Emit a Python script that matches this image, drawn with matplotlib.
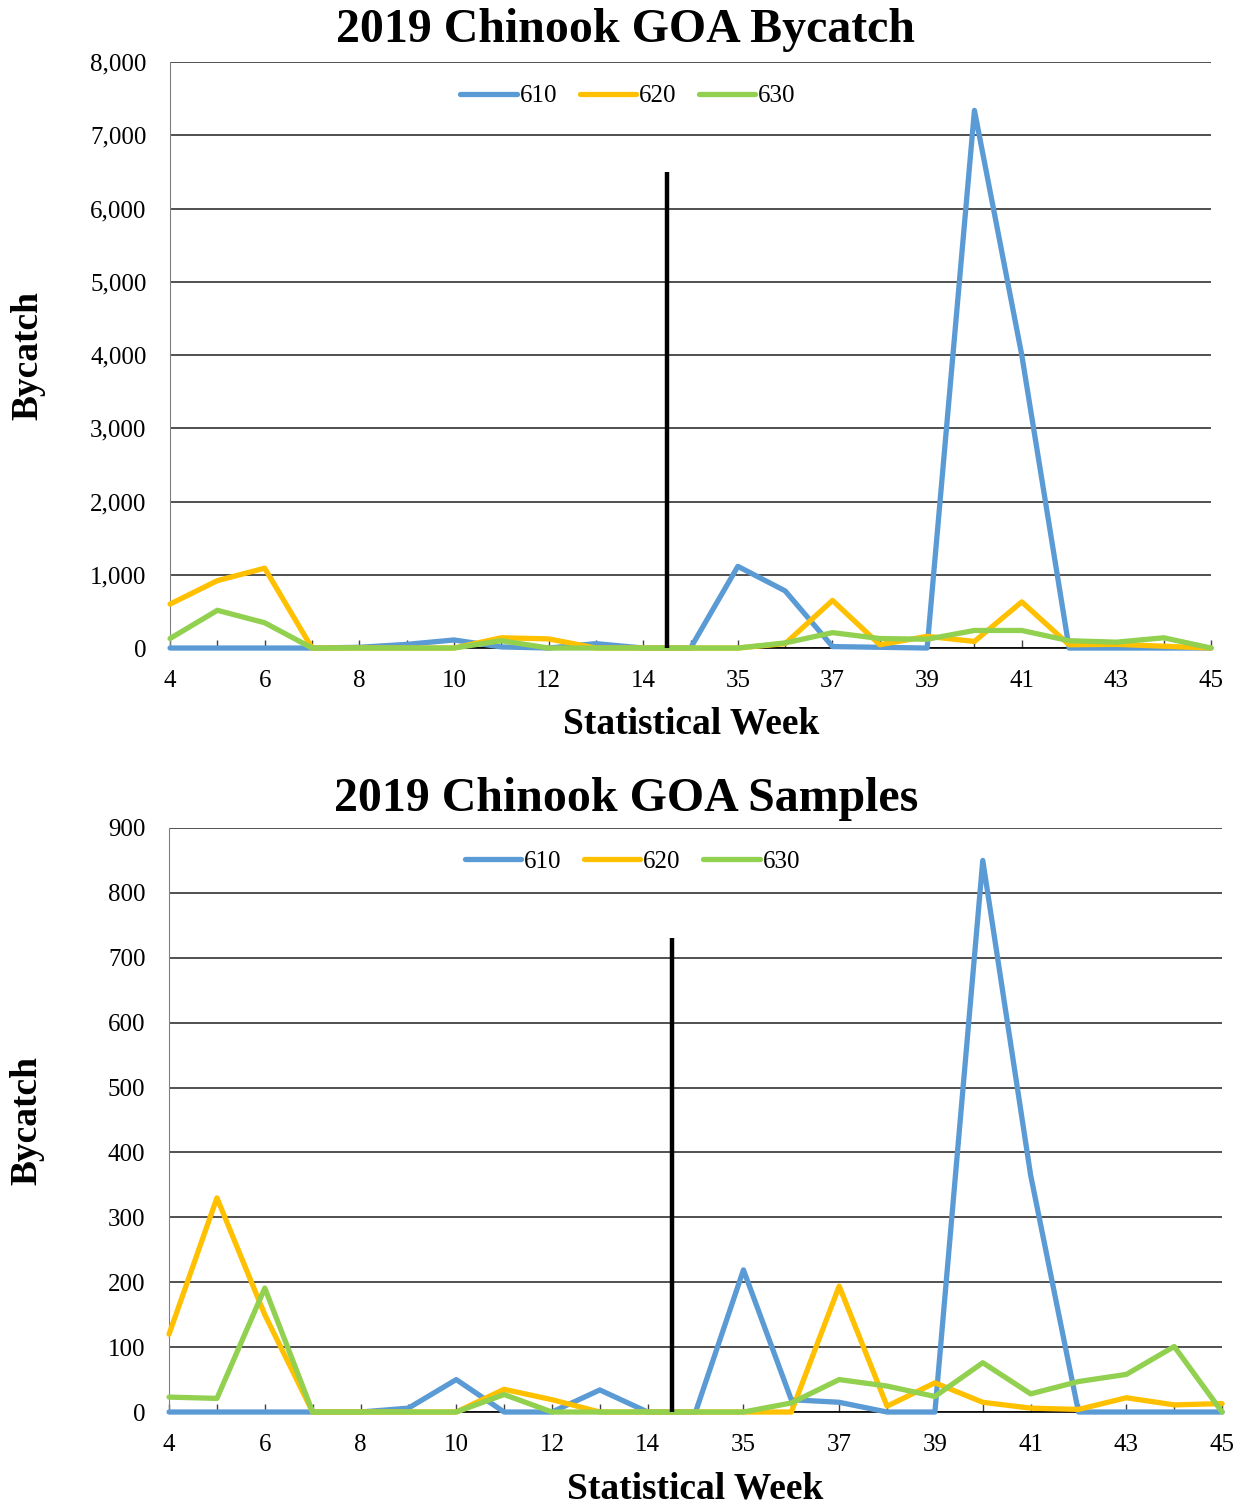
import matplotlib
matplotlib.use("Agg")
import matplotlib.pyplot as plt
from matplotlib.ticker import FuncFormatter

plt.rcParams['font.family'] = ['Liberation Serif', 'DejaVu Serif']

# statistical weeks, '' is the spacer slot between spring and fall
weeks = ['4', '5', '6', '7', '8', '9', '10', '11', '12', '13', '14', '',
         '35', '36', '37', '38', '39', '40', '41', '42', '43', '44', '45']
areas = ['610', '620', '630']

bycatch_610 = [0, 0, 0, 0, 10, 50, 110, 15, 0, 60, 0, 0,
               1115, 780, 20, 10, 0, 7340, 4000, 0, 0, 0, 0]
bycatch_620 = [600, 920, 1090, 0, 0, 0, 0, 140, 125, 0, 0, 0,
               0, 60, 650, 45, 160, 90, 630, 45, 50, 25, 0]
bycatch_630 = [130, 515, 345, 0, 0, 0, 0, 100, 0, 0, 0, 0,
               0, 70, 210, 130, 120, 240, 240, 100, 80, 140, 0]

samples_610 = [0, 0, 0, 0, 0, 6, 50, 0, 0, 34, 0, 0,
               219, 19, 15, 0, 0, 850, 365, 0, 0, 0, 0]
samples_620 = [120, 330, 150, 0, 0, 0, 0, 35, 19, 0, 0, 0,
               0, 0, 194, 9, 45, 15, 6, 4, 22, 11, 13]
samples_630 = [23, 21, 191, 0, 0, 0, 0, 27, 0, 0, 0, 0,
               0, 14, 50, 40, 24, 76, 28, 47, 58, 101, 0]

# black separator between week 14 and the fall weeks
sep_pos = 10.5
sep_bycatch = 6500
sep_samples = 730

colors = ['#5B9BD5', '#FFC000', '#92D050']


def draw_panel(ax, series, title, title_y, ymax, ystep, sep_height, comma):
    x = list(range(len(weeks)))
    for vals, name, c in zip(series, areas, colors):
        ax.plot(x, vals, color=c, lw=3.8, label=name, clip_on=False,
                solid_capstyle='round', solid_joinstyle='round', zorder=3)
    ax.vlines(sep_pos, 0, sep_height, color='black', lw=3.2, zorder=4)

    ax.set_xlim(0, len(weeks) - 1)
    ax.set_ylim(0, ymax)
    ax.set_yticks(range(0, ymax + 1, ystep))
    if comma:
        ax.yaxis.set_major_formatter(FuncFormatter(lambda v, p: f'{int(v):,}'))
    ax.set_xticks(x)
    ax.set_xticklabels([w if i % 2 == 0 else '' for i, w in enumerate(weeks)])
    ax.tick_params(axis='x', direction='in', length=6, width=1, pad=16,
                   labelsize=18, color='#404040')
    ax.tick_params(axis='y', length=0, pad=17, labelsize=18)

    ax.grid(axis='y', color='#202020', lw=1.1, zorder=1)
    for s in ['right', 'top']:
        ax.spines[s].set_visible(False)
    ax.spines['left'].set_color('#808080')
    ax.spines['left'].set_linewidth(0.8)
    ax.spines['bottom'].set_color('black')
    ax.spines['bottom'].set_linewidth(1.2)

    fig.text(0.503, title_y, title, fontsize=34.5, fontweight='bold',
             ha='center', va='baseline')
    ax.set_xlabel('Statistical Week', fontsize=27, fontweight='bold')
    ax.set_ylabel('Bycatch', fontsize=27, fontweight='bold')
    ax.legend(loc='center', bbox_to_anchor=(0.44, 0.942), ncol=3,
              frameon=False, fontsize=18, handlelength=2.25, handletextpad=0.12,
              columnspacing=0.9)


fig = plt.figure(figsize=(12.44, 15.06), dpi=100)
ax1 = fig.add_axes([0.1367, 0.5697, 0.8368, 0.3891])
ax2 = fig.add_axes([0.1359, 0.0624, 0.8465, 0.3878])

draw_panel(ax1, [bycatch_610, bycatch_620, bycatch_630],
           '2019 Chinook GOA Bycatch', 0.9721, 8000, 1000, sep_bycatch, True)
draw_panel(ax2, [samples_610, samples_620, samples_630],
           '2019 Chinook GOA Samples', 0.4615, 900, 100, sep_samples, False)

ax1.xaxis.set_label_coords(0.501, -0.100)
ax2.xaxis.set_label_coords(0.4995, -0.102)
ax1.yaxis.set_label_coords(-0.120, 0.5)
ax2.yaxis.set_label_coords(-0.118, 0.5)

fig.savefig('out.png', dpi=100)
